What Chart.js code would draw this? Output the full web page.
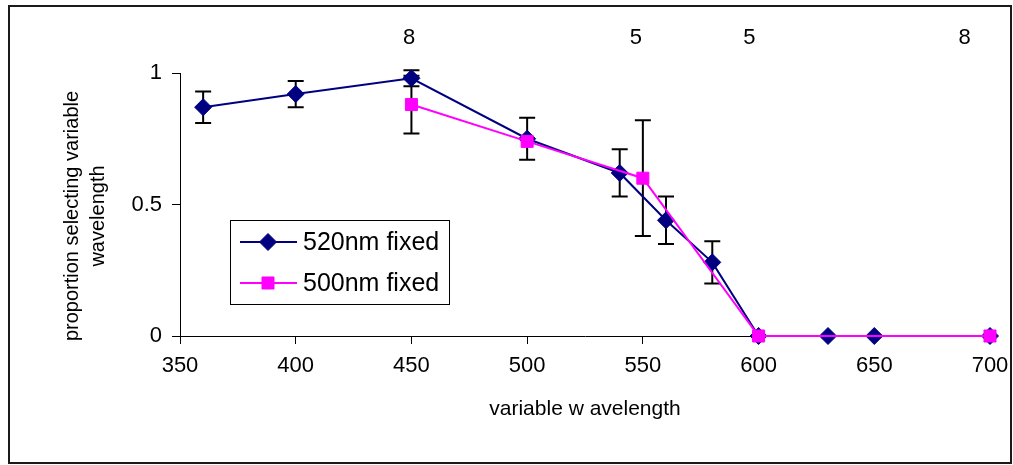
<!DOCTYPE html>
<html lang="en">

<head>
  <meta charset="UTF-8" />
  <title>Proportion selecting variable wavelength</title>
  <style>
    html, body { margin: 0; padding: 0; background: #fff; }
    #wrap { width: 1013px; height: 465px; }
  </style>
</head>

<body>
  <div id="wrap">
    <canvas id="myChart" width="1013" height="465"></canvas>
  </div>
  <script src="https://cdn.jsdelivr.net/npm/chart.js@4.4.0/dist/chart.umd.min.js"></script>
  <script>
    // 520nm fixed series
    const wavelengths520 = [360, 400, 450, 500, 540, 560, 580, 600, 630, 650, 700];
    const values520 = [0.87, 0.92, 0.98, 0.75, 0.62, 0.44, 0.28, 0, 0, 0, 0];
    const errors520 = [0.06, 0.05, 0.03, 0.08, 0.09, 0.09, 0.08, 0, 0, 0, 0];

    // 500nm fixed series
    const wavelengths500 = [450, 500, 550, 600, 700];
    const values500 = [0.88, 0.74, 0.60, 0, 0];
    const errors500 = [0.11, 0, 0.22, 0, 0];

    // counts written above the plot
    const countPositions = [449, 547, 596, 689];
    const countLabels = ['8', '5', '5', '8'];

    const xMin = 350, xMax = 700, xStep = 50;
    const yMin = 0, yMax = 1, yStep = 0.5;

    const FONT = "'Liberation Sans', Arial, sans-serif";
    const NAVY = '#000080';
    const MAGENTA = '#FF00FF';

    const toPoints = (xs, ys) => xs.map((x, i) => ({ x: x, y: ys[i] }));

    // error bars, under the markers
    const errorBars = {
      id: 'errorBars',
      beforeDatasetsDraw(chart) {
        const { ctx, scales: { x, y } } = chart;
        const sets = [[wavelengths520, values520, errors520], [wavelengths500, values500, errors500]];
        ctx.save();
        ctx.strokeStyle = '#000';
        ctx.lineWidth = 2;
        sets.forEach(([xs, vs, es]) => {
          xs.forEach((w, i) => {
            if (!es[i]) return;
            const px = x.getPixelForValue(w);
            const top = y.getPixelForValue(vs[i] + es[i]);
            const bot = y.getPixelForValue(vs[i] - es[i]);
            ctx.beginPath();
            ctx.moveTo(px, top); ctx.lineTo(px, bot);
            ctx.moveTo(px - 8, top); ctx.lineTo(px + 8, top);
            ctx.moveTo(px - 8, bot); ctx.lineTo(px + 8, bot);
            ctx.stroke();
          });
        });
        ctx.restore();
      }
    };

    // frame, titles, counts and legend
    const decorations = {
      id: 'decorations',
      afterDraw(chart) {
        const { ctx, chartArea, scales: { x } } = chart;
        ctx.save();
        // outer frame
        ctx.strokeStyle = '#1a1a1a';
        ctx.lineWidth = 2;
        ctx.strokeRect(9, 6, 1002, 457);

        ctx.fillStyle = '#000';
        ctx.textAlign = 'center';
        ctx.textBaseline = 'middle';

        // counts along the top
        ctx.font = '22px ' + FONT;
        countPositions.forEach((w, i) => {
          ctx.fillText(countLabels[i], x.getPixelForValue(w), 38);
        });

        // x title
        ctx.font = '21px ' + FONT;
        ctx.fillText('variable w avelength', (chartArea.left + chartArea.right) / 2, 409);

        // y title
        ctx.save();
        ctx.translate(85, 216);
        ctx.rotate(-Math.PI / 2);
        ctx.font = '20px ' + FONT;
        ctx.fillText('proportion selecting variable', 0, -13);
        ctx.fillText('wavelength', 0, 13);
        ctx.restore();

        // legend
        ctx.strokeStyle = '#000';
        ctx.lineWidth = 1;
        ctx.strokeRect(230.5, 220.5, 219, 84);
        const items = [
          { label: '520nm fixed', color: NAVY, style: 'rectRot', radius: 8.5, y: 242 },
          { label: '500nm fixed', color: MAGENTA, style: 'rect', radius: 8.5, y: 283 }
        ];
        items.forEach(it => {
          ctx.strokeStyle = it.color;
          ctx.lineWidth = 2;
          ctx.beginPath();
          ctx.moveTo(240, it.y); ctx.lineTo(297, it.y);
          ctx.stroke();
          ctx.fillStyle = it.color;
          ctx.lineWidth = 1;
          Chart.helpers.drawPoint(ctx, { pointStyle: it.style, radius: it.radius, rotation: 0, borderWidth: 1 }, 268, it.y);
          ctx.fillStyle = '#000';
          ctx.textAlign = 'left';
          ctx.font = '25px ' + FONT;
          ctx.fillText(it.label, 303, it.y + 1);
        });
        ctx.restore();
      }
    };

    const ctx = document.getElementById('myChart').getContext('2d');

    const myChart = new Chart(ctx, {
      type: 'line',
      data: {
        datasets: [{
          label: '520nm fixed',
          data: toPoints(wavelengths520, values520),
          borderColor: NAVY,
          backgroundColor: NAVY,
          borderWidth: 2,
          pointStyle: 'rectRot',
          pointRadius: 8.5,
          pointBorderWidth: 1,
          clip: false,
          order: 2
        }, {
          label: '500nm fixed',
          data: toPoints(wavelengths500, values500),
          borderColor: MAGENTA,
          backgroundColor: MAGENTA,
          borderWidth: 2,
          pointStyle: 'rect',
          pointRadius: 8.5,
          pointBorderWidth: 1,
          clip: false,
          order: 1
        }]
      },
      options: {
        responsive: false,
        animation: false,
        events: [],
        layout: { padding: { left: 0, top: 73, right: 23, bottom: 0 } },
        plugins: {
          legend: { display: false },
          tooltip: { enabled: false }
        },
        scales: {
          x: {
            type: 'linear',
            min: xMin,
            max: xMax,
            afterFit(scale) {
              scale.height = 129;
              scale.paddingLeft = 0;
              scale.paddingRight = 0;
            },
            ticks: { stepSize: xStep, color: '#000', font: { family: FONT, size: 22 }, padding: 9, maxRotation: 0 },
            grid: { drawOnChartArea: false, drawTicks: true, tickLength: 8, color: '#000', lineWidth: 1 },
            border: { display: true, color: '#000', width: 1 }
          },
          y: {
            min: yMin,
            max: yMax,
            afterFit(scale) {
              scale.width = 180;
              scale.paddingTop = 0;
              scale.paddingBottom = 0;
            },
            ticks: { stepSize: yStep, color: '#000', font: { family: FONT, size: 22 }, padding: 10, callback: v => String(v) },
            grid: { drawOnChartArea: false, drawTicks: true, tickLength: 8, color: '#000', lineWidth: 1 },
            border: { display: true, color: '#000', width: 1 }
          }
        }
      },
      plugins: [errorBars, decorations]
    });
  </script>
</body>

</html>
